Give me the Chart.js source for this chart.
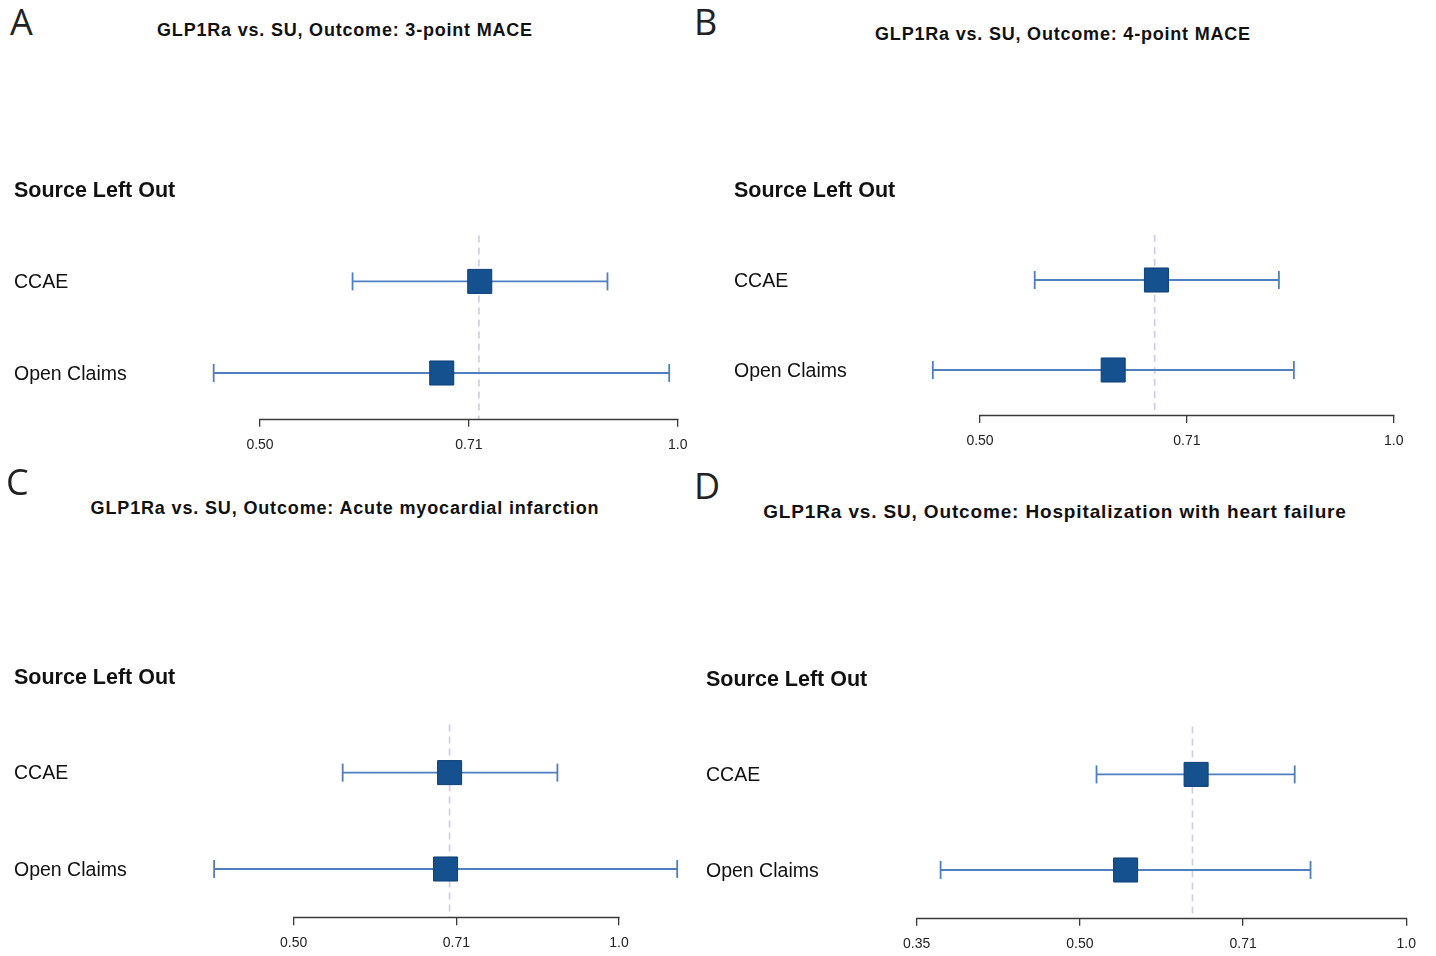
<!DOCTYPE html>
<html>
<head>
<meta charset="utf-8">
<script src="https://cdn.jsdelivr.net/npm/chart.js@4.4.1/dist/chart.umd.min.js"></script>
<style>
  html, body { margin: 0; padding: 0; background: #ffffff; }
  body { width: 1436px; height: 956px; position: relative; overflow: hidden; font-family: "Liberation Sans", Arial, sans-serif; }
  .letter { position: absolute; font-family: "Open Sans", "DejaVu Sans", sans-serif; font-weight: 400; font-size: 36px; line-height: 36px; color: #222; }
  .title { position: absolute; font-family: "Liberation Sans", Arial, sans-serif; font-weight: bold; line-height: 20px; color: #111; white-space: nowrap; transform: translate(-50%, -50%); }
  canvas { position: absolute; }
</style>
</head>
<body>
<script>
// ---------------- DATA ----------------
const panelLetters = ['A', 'B', 'C', 'D'];
const panelTitles = [
  'GLP1Ra vs. SU, Outcome: 3-point MACE',
  'GLP1Ra vs. SU, Outcome: 4-point MACE',
  'GLP1Ra vs. SU, Outcome: Acute myocardial infarction',
  'GLP1Ra vs. SU, Outcome: Hospitalization with heart failure'
];
const headerLabel = 'Source Left Out';
const sources = ['CCAE', 'Open Claims'];

// hazard ratio estimates and 95% CI per panel (rows follow `sources`)
const estA = [0.720, 0.676];
const lowA = [0.583, 0.463];
const highA = [0.890, 0.986];
const pooledA = 0.719;

const estB = [0.672, 0.625];
const lowB = [0.548, 0.462];
const highB = [0.825, 0.846];
const pooledB = 0.670;

const estC = [0.697, 0.691];
const lowC = [0.555, 0.422];
const highC = [0.877, 1.132];
const pooledC = 0.697;

const estD = [0.640, 0.551];
const lowD = [0.518, 0.372];
const highD = [0.789, 0.816];
const pooledD = 0.635;

// x-axis ticks (log scale)
const ticksABC = [0.5, 0.7071, 1.0];
const tickLabelsABC = ['0.50', '0.71', '1.0'];
const ticksD = [0.3536, 0.5, 0.7071, 1.0];
const tickLabelsD = ['0.35', '0.50', '0.71', '1.0'];

// ---------------- LAYOUT / STYLE ----------------
const layouts = [
  { letterX: 10, letterY: 4,    titleX: 345,  titleY: 30,  titleSize: 18, titleSpacing: 0.8,  labelX: 14,  areaLeft: 200, areaRight: 700,  tickLeft: 260,   tickRight: 677.7,  headY: 190, axisY: 419 },
  { letterX: 694, letterY: 4,   titleX: 1063, titleY: 34,  titleSize: 18, titleSpacing: 0.8,  labelX: 734, areaLeft: 920, areaRight: 1410, tickLeft: 980,   tickRight: 1393.7, headY: 190, axisY: 415 },
  { letterX: 6, letterY: 464,   titleX: 345,  titleY: 508, titleSize: 18, titleSpacing: 0.85, labelX: 14,  areaLeft: 200, areaRight: 700,  tickLeft: 293.7, tickRight: 619,    headY: 676, axisY: 917 },
  { letterX: 694, letterY: 468, titleX: 1055, titleY: 512, titleSize: 19, titleSpacing: 0.85, labelX: 706, areaLeft: 900, areaRight: 1415, tickLeft: 916.7, tickRight: 1406.3, headY: 679, axisY: 918 }
];
const ciColor = '#4f7fc0';
const boxColor = '#15508f';
const boxBorder = '#0e3f78';
const refColor = '#cacbe9';
const axisColor = '#3a3a3a';
const FONT = '"Liberation Sans", Arial, sans-serif';

const panelData = [
  { est: estA, low: lowA, high: highA, pooled: pooledA, ticks: ticksABC, tickLabels: tickLabelsABC },
  { est: estB, low: lowB, high: highB, pooled: pooledB, ticks: ticksABC, tickLabels: tickLabelsABC },
  { est: estC, low: lowC, high: highC, pooled: pooledC, ticks: ticksABC, tickLabels: tickLabelsABC },
  { est: estD, low: lowD, high: highD, pooled: pooledD, ticks: ticksD, tickLabels: tickLabelsD }
];

const rowLabels = [headerLabel].concat(sources);

// axis line spanning only the tick range (forest-plot style)
const tickRangeAxis = {
  id: 'tickRangeAxis',
  afterDraw(chart) {
    const xs = chart.scales.x;
    const t = xs.ticks;
    if (!t.length) return;
    const p0 = xs.getPixelForValue(t[0].value);
    const p1 = xs.getPixelForValue(t[t.length - 1].value);
    const y = Math.round(chart.chartArea.bottom) + 0.5;
    const ctx = chart.ctx;
    ctx.save();
    ctx.strokeStyle = axisColor;
    ctx.lineWidth = 1.3;
    ctx.beginPath();
    ctx.moveTo(p0 - 0.65, y);
    ctx.lineTo(p1 + 0.65, y);
    ctx.stroke();
    ctx.restore();
  }
};

function makePanel(i) {
  const L = layouts[i];
  const D = panelData[i];

  const letter = document.createElement('div');
  letter.className = 'letter';
  letter.style.left = L.letterX + 'px';
  letter.style.top = L.letterY + 'px';
  letter.textContent = panelLetters[i];
  document.body.appendChild(letter);

  const title = document.createElement('div');
  title.className = 'title';
  title.style.left = L.titleX + 'px';
  title.style.top = L.titleY + 'px';
  title.style.fontSize = L.titleSize + 'px';
  title.style.letterSpacing = L.titleSpacing + 'px';
  title.textContent = panelTitles[i];
  document.body.appendChild(title);

  const rowH = (L.axisY - L.headY) / 2.5;
  const chartTop = L.axisY - 3 * rowH;
  const padTop = 20, padRight = 18, xH = 36, padBottom = 4;
  const cTop = chartTop - padTop;
  const cW = Math.round(L.areaRight - L.labelX + padRight);
  const cH = Math.round(L.axisY - cTop + xH + padBottom);

  const canvas = document.createElement('canvas');
  canvas.width = cW; canvas.height = cH;
  canvas.style.width = cW + 'px'; canvas.style.height = cH + 'px';
  canvas.style.left = L.labelX + 'px';
  canvas.style.top = cTop + 'px';
  document.body.appendChild(canvas);

  const yAxisW = L.areaLeft - L.labelX;
  const adjRight = cW - (L.areaRight - L.labelX);
  const adjBottom = cH - (L.axisY - cTop) - xH;

  // log-axis range so that the first/last ticks land at the layout positions
  const t0 = D.ticks[0], tN = D.ticks[D.ticks.length - 1];
  const k = (Math.log(tN) - Math.log(t0)) / (L.tickRight - L.tickLeft);
  const xMin = Math.exp(Math.log(t0) - (L.tickLeft - L.areaLeft) * k);
  const xMax = Math.exp(Math.log(tN) + (L.areaRight - L.tickRight) * k);

  const datasets = [];
  // squares (point estimates) – drawn on top
  datasets.push({
    type: 'scatter',
    data: D.est.map((v, j) => ({ x: v, y: j + 1 })),
    pointStyle: 'rect',
    pointRadius: 17,
    pointHoverRadius: 17,
    backgroundColor: boxColor,
    borderColor: boxBorder,
    borderWidth: 1,
    clip: false
  });
  // confidence intervals with whisker caps
  sources.forEach((s, j) => {
    datasets.push({
      type: 'line',
      data: [{ x: D.low[j], y: j + 1 }, { x: D.high[j], y: j + 1 }],
      showLine: true,
      borderColor: ciColor,
      borderWidth: 1.8,
      pointStyle: 'line',
      pointRotation: 90,
      pointRadius: 9,
      pointHoverRadius: 9,
      pointBorderColor: ciColor,
      pointBorderWidth: 1.8,
      clip: false
    });
  });
  // dashed reference line at pooled estimate
  datasets.push({
    type: 'line',
    data: [{ x: D.pooled, y: 0.5 }, { x: D.pooled, y: 2.5 }],
    showLine: true,
    borderColor: refColor,
    borderWidth: 1.6,
    borderDash: [7, 5],
    pointRadius: 0,
    clip: false
  });

  new Chart(canvas, {
    type: 'scatter',
    data: { datasets },
    plugins: [tickRangeAxis],
    options: {
      responsive: false,
      animation: false,
      events: [],
      layout: { padding: { left: 0, top: padTop, right: adjRight, bottom: adjBottom } },
      plugins: { legend: { display: false }, tooltip: { enabled: false } },
      scales: {
        x: {
          type: 'logarithmic',
          bounds: 'data',
          min: xMin,
          max: xMax,
          afterBuildTicks: (scale) => { scale.ticks = D.ticks.map(v => ({ value: v })); },
          afterFit: (scale) => { scale.height = xH; },
          border: { display: false },
          grid: { display: true, drawOnChartArea: false, drawTicks: true, tickLength: 8, color: axisColor, lineWidth: 1.3 },
          ticks: {
            autoSkip: false, maxRotation: 0, minRotation: 0, padding: 10,
            color: '#222',
            font: { family: FONT, size: 14 },
            callback: (value, index) => D.tickLabels[index]
          }
        },
        y: {
          type: 'linear',
          reverse: true,
          min: -0.5,
          max: 2.5,
          afterBuildTicks: (scale) => { scale.ticks = rowLabels.map((_, j) => ({ value: j })); },
          afterFit: (scale) => { scale.width = yAxisW; },
          border: { display: false },
          grid: { display: false },
          ticks: {
            crossAlign: 'far',
            padding: 0,
            labelOffset: 1.5,
            color: '#111',
            font: (ctx) => ctx.index === 0
              ? { family: FONT, size: 21.5, weight: 'bold' }
              : { family: FONT, size: 19.5 },
            callback: (value, index) => rowLabels[index]
          }
        }
      }
    }
  });
}

for (let i = 0; i < 4; i++) makePanel(i);
</script>
</body>
</html>
